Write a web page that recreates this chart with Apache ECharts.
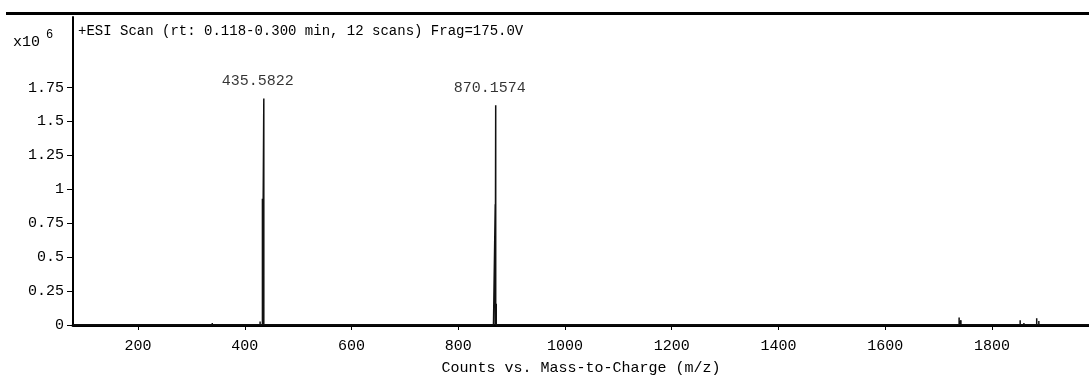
<!DOCTYPE html>
<html><head><meta charset="utf-8">
<script src="https://cdn.jsdelivr.net/npm/echarts@6/dist/echarts.min.js"></script>
<style>html,body{margin:0;padding:0;background:#fff}#c{width:1089px;height:381px}</style>
</head><body><div id="c"></div>
<script>
// m/z positions and intensities (x10^6)
const mzValues = [110, 160, 230, 285, 339, 410, 428.6, 433, 435.5822, 560, 700, 851, 866, 869.3, 870.1574, 871.2, 1000, 1100, 1250, 1420, 1680, 1725, 1738.6, 1742, 1774, 1790, 1853, 1860, 1884, 1888, 1920];
const intensities = [0.004, 0.006, 0.005, 0.004, 0.015, 0.008, 0.025, 0.93, 1.67, 0.004, 0.005, 0.012, 0.02, 0.89, 1.62, 0.157, 0.004, 0.003, 0.003, 0.004, 0.005, 0.008, 0.055, 0.035, 0.012, 0.006, 0.035, 0.015, 0.05, 0.03, 0.004];
const peakLabels = [[435.5822, 1.67, '435.5822'], [870.1574, 1.62, '870.1574']];
const yTicks = [0, 0.25, 0.5, 0.75, 1, 1.25, 1.5, 1.75];
const xTicks = [200, 400, 600, 800, 1000, 1200, 1400, 1600, 1800];
const titleText = '+ESI Scan (rt: 0.118-0.300 min, 12 scans) Frag=175.0V';
const xName = 'Counts vs. Mass-to-Charge (m/z)';

const stick = [[78, 0]];
mzValues.forEach((m, i) => { stick.push([m, 0], [m, intensities[i]], [m, 0]); });
stick.push([1982, 0]);

const font = 'Liberation Mono';
const chart = echarts.init(document.getElementById('c'));
chart.setOption({
  animation: false,
  grid: { left: 73, right: 0, top: 17, bottom: 46 },
  xAxis: {
    type: 'value', min: 78, max: 1982,
    name: xName, nameLocation: 'middle', nameGap: 36,
    nameTextStyle: { fontFamily: font, fontSize: 15, color: '#000' },
    axisLine: { show: true, lineStyle: { color: '#000', width: 3 } },
    axisTick: { show: true, customValues: xTicks, length: 5, lineStyle: { color: '#000', width: 1 } },
    axisLabel: { customValues: xTicks, fontFamily: font, fontSize: 15, color: '#000', margin: 14,
      formatter: v => String(v) },
    splitLine: { show: false }
  },
  yAxis: {
    type: 'value', min: 0, max: 2.27,
    axisLine: { show: true, lineStyle: { color: '#000', width: 2 } },
    axisTick: { show: true, customValues: yTicks, length: 6, lineStyle: { color: '#000', width: 1 } },
    axisLabel: { customValues: yTicks, fontFamily: font, fontSize: 15, color: '#000', margin: 9,
      formatter: v => String(v) },
    splitLine: { show: false }
  },
  series: [
    { type: 'line', data: stick, symbol: 'none', lineStyle: { color: '#111', width: 1.5 } },
    { type: 'scatter', data: peakLabels.map(p => [p[0], p[1], p[2]]), symbolSize: 0,
      label: { show: true, position: 'top', offset: [-6, -5], formatter: p => p.data[2],
        fontFamily: font, fontSize: 15, color: '#000' } }
  ],
  graphic: [
    { type: 'rect', shape: { x: 6, y: 12, width: 1083, height: 3 }, style: { fill: '#000' } },
    { type: 'text', left: 78, top: 24, style: { text: titleText, font: '14px "Liberation Mono"', fill: '#000' } },
    { type: 'text', left: 13, top: 35, style: { text: 'x10', font: '15px "Liberation Mono"', fill: '#000' } },
    { type: 'text', left: 46, top: 29, style: { text: '6', font: '12px "Liberation Mono"', fill: '#000' } }
  ]
});
</script></body></html>
